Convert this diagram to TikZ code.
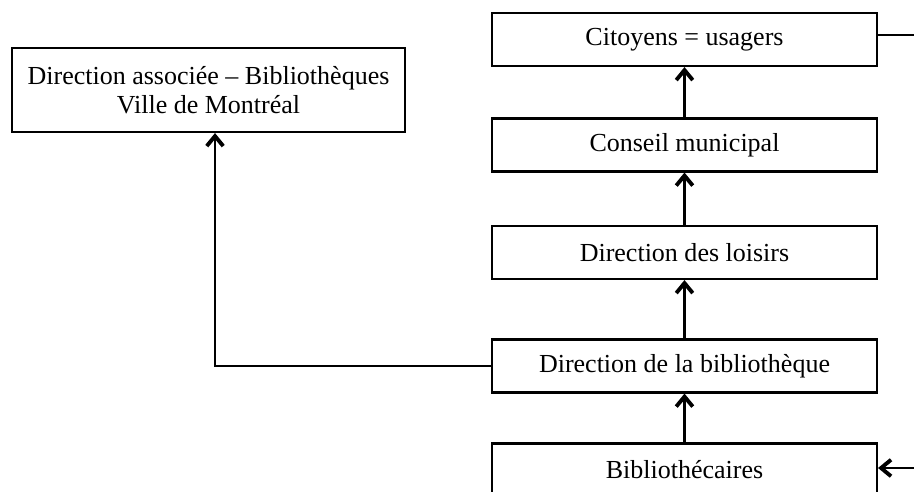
\documentclass[tikz,border=0pt]{standalone}
\usepackage{fontspec}
\setmainfont{Liberation Serif}
\usetikzlibrary{arrows.meta}
\tikzset{
  unit/.style={draw, line width=1.2pt, minimum width=7.7cm, minimum height=1.06cm,
    inner sep=0pt, font=\fontsize{14.8}{16.5}\selectfont},
  arr/.style={-{Straight Barb[length=2mm,width=3.3mm,line width=2.2pt]}, line width=1.3pt},
  link/.style={line width=1.3pt}
}
\begin{document}
\begin{tikzpicture}[x=0.02cm, y=-0.02cm]
        \useasboundingbox (0,0) rectangle (914,491);

        % colonne de droite
        \node[unit] (citoyens) at (684.5,39.5) {Citoyens = usagers};
        \node[unit] (conseil) at (684.5,145) {Conseil municipal};
        \node[unit] (loisirs) at (684.5,252.5) {Direction des loisirs};
        \node[unit] (direction) at (684.5,366) {Direction de la biblioth\`eque};
        \node[unit] (bibliothecaires) at (684.5,470) {Biblioth\'ecaires};

        % boite de gauche
        \node[unit, minimum width=7.86cm, minimum height=1.68cm, align=center] (montreal) at (208.5,90)
            {Direction associ\'ee -- Biblioth\`eques\\Ville de Montr\'eal};

        \draw[arr] (bibliothecaires.north) -- (direction.south);
        \draw[arr] (direction.north) -- (loisirs.south);
        \draw[arr] (loisirs.north) -- (conseil.south);
        \draw[arr] (conseil.north) -- (citoyens.south);

        \coordinate (bend) at (215,366);
        \draw[arr] (direction.west) -- (bend) -- (bend |- montreal.south);

        \coordinate (sortie) at (914,35);
        \draw[link] (citoyens.east |- sortie) -- (sortie);
        \coordinate (entree) at (914,468);
        \draw[arr] (entree) -- (entree -| bibliothecaires.east);

\end{tikzpicture}
\end{document}
